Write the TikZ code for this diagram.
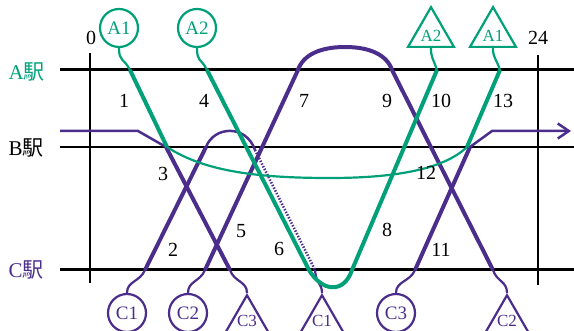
\documentclass[tikz,border=0pt]{standalone}
\usepackage{fontspec}
\usepackage{tikz}
\usetikzlibrary{arrows.meta,shapes.geometric}
\setmainfont{Liberation Serif}
\newfontfamily\jfont{Noto Sans CJK JP}
\definecolor{grn}{RGB}{0,160,120}
\definecolor{prp}{RGB}{75,45,140}

\begin{document}
\begin{tikzpicture}[x=1pt, y=-1pt,
  stn/.style={line width=3pt},
  thinstn/.style={line width=1.5pt},
  gtrk/.style={grn, line width=4pt},
  ptrk/.style={prp, line width=4pt},
  gthin/.style={grn, line width=2.2pt},
  pthin/.style={prp, line width=2.5pt},
  sq/.style={line width=2.2pt},
  circ/.style={circle, draw, line width=2.2pt, minimum size=38pt, inner sep=0pt, font=\fontsize{19}{21}\selectfont},
  tri/.style={regular polygon, regular polygon sides=3, draw, line width=2.2pt, minimum size=53pt, inner sep=0pt},
  trilab/.style={font=\fontsize{17}{19}\selectfont, inner sep=0pt},
  num/.style={font=\fontsize{20}{22}\selectfont},
  sta/.style={font=\fontsize{21}{23}\selectfont, anchor=west}]
\useasboundingbox (0,0) rectangle (574,331);
% station lines and time axis
\draw[stn] (60,70) -- (574,70);
\draw[thinstn] (60,147) -- (574,147);
\draw[stn] (60,270) -- (574,270);
\draw[thinstn] (90,53) -- (90,283);
\draw[line width=1.8pt] (538,55) -- (538,285);
\node[sta, text=grn] (sa) at (5,72) {A{\jfont 駅}};
\node[sta] (sb) at (5,148) {B{\jfont 駅}};
\node[sta, text=prp] (sc) at (5,270) {C{\jfont 駅}};
\node[num] (t0) at (91,38) {0};
\node[num] (t24) at (538,38) {24};
% start and end marks
\node[circ, grn] (a1s) at (119,28) {A1};
\node[circ, grn] (a2s) at (197,28) {A2};
\node[tri, grn, anchor=south, label={[trilab, grn, yshift=-2pt]center:A2}] (a2e) at (431,48) {};
\node[tri, grn, anchor=south, label={[trilab, grn, yshift=-2pt]center:A1}] (a1e) at (493,48) {};
\node[circ, prp] (c1s) at (127,313) {C1};
\node[circ, prp] (c2s) at (188,313) {C2};
\node[circ, prp] (c3s) at (396,313) {C3};
\node[tri, prp, anchor=north, label={[trilab, prp, yshift=1pt]center:C3}] (c3e) at (247,293) {};
\node[tri, prp, anchor=north, label={[trilab, prp, yshift=1pt]center:C1}] (c1e) at (322,293) {};
\node[tri, prp, anchor=north, label={[trilab, prp, yshift=1pt]center:C2}] (c2e) at (507,293) {};
% crossing points
\coordinate (a1A) at (130,70);   \coordinate (a1B) at (167,147);
\coordinate (a1B2) at (467,147); \coordinate (a1A2) at (500,70);
\coordinate (a2A) at (207,70);   \coordinate (a2C) at (309,270);
\coordinate (a2C2) at (352,270); \coordinate (a2A2) at (437,70);
\coordinate (c3in) at (60,131);  \coordinate (c3k) at (138,131);
\coordinate (c3B) at (166,147);  \coordinate (c3C) at (230,270);
\coordinate (c1C) at (145,270);  \coordinate (c1B) at (206,147);
\coordinate (c1B2) at (255,150); \coordinate (c1C2) at (315,270);
\coordinate (c2C) at (205,270);  \coordinate (c2A) at (298,70);
\coordinate (c2top) at (345,47);
\coordinate (c2A2) at (392,70);  \coordinate (c2C2) at (493,270);
\coordinate (c3C2) at (415,270); \coordinate (c3B2) at (470,147);
\coordinate (c3k2) at (492,131); \coordinate (c3out) at (571,131);
% purple trains
\draw[pthin] (c3in) -- (c3k) -- (c3B);
\draw[ptrk] (c3B) -- (c3C);
\draw[prp, sq] (c3C) .. controls +(4,12) and +(0,-12) .. (c3e.north);
\draw[prp, sq] (c1s.north) .. controls +(0,-12) and +(-5,12) .. (c1C);
\draw[ptrk] (c1C) -- (c1B);
\draw[pthin] (c1B) .. controls (214,126) and (246,124) .. (c1B2);
\draw[prp, line width=2.5pt, dash pattern=on 1.4pt off 1.6pt] (c1B2) -- (c1C2);
\draw[prp, sq] (c1C2) .. controls +(1,14) and +(0,-10) .. (c1e.north);
\draw[prp, sq] (c2s.north) .. controls +(0,-12) and +(-5,12) .. (c2C);
\draw[ptrk] (c2C) -- (c2A) .. controls (303,55) and (320,47) .. (c2top)
  .. controls (370,47) and (387,55) .. (c2A2) -- (c2C2);
\draw[prp, sq] (c2C2) .. controls +(4,12) and +(0,-12) .. (c2e.north);
\draw[prp, sq] (c3s.north) .. controls +(0,-12) and +(-5,12) .. (c3C2);
\draw[ptrk] (c3C2) -- (c3B2);
\draw[pthin, -{Straight Barb[length=11pt, width=15pt]}] (c3B2) -- (c3k2) -- (c3out);
% green trains
\draw[grn, sq] (a1s.south) .. controls +(0,14) and +(-6,-12) .. (a1A);
\draw[gtrk] (a1A) -- (a1B);
\draw[gthin] (a1B) .. controls (205,172) and (260,178) .. (330,178)
  .. controls (400,178) and (445,168) .. (a1B2);
\draw[gtrk] (a1B2) -- (a1A2);
\draw[grn, sq] (a1A2) .. controls +(-4,-12) and +(0,10) .. (a1e.south);
\draw[grn, sq] (a2s.south) .. controls +(0,14) and +(-6,-12) .. (a2A);
\draw[gtrk] (a2A) -- (a2C) .. controls (322,292) and (344,294) .. (a2C2) -- (a2A2);
\draw[grn, sq] (a2A2) .. controls +(-4,-12) and +(0,10) .. (a2e.south);
% section numbers
\node[num] (n1) at (124,101) {1};
\node[num] (n4) at (204,101) {4};
\node[num] (n7) at (304,101) {7};
\node[num] (n9) at (387,101) {9};
\node[num] (n10) at (441,101) {10};
\node[num] (n13) at (503,101) {13};
\node[num] (n3) at (163,174) {3};
\node[num] (n12) at (426,173) {12};
\node[num] (n2) at (173,250) {2};
\node[num] (n5) at (241,231) {5};
\node[num] (n6) at (279,249) {6};
\node[num] (n8) at (387,230) {8};
\node[num] (n11) at (441,250) {11};
\end{tikzpicture}
\end{document}
